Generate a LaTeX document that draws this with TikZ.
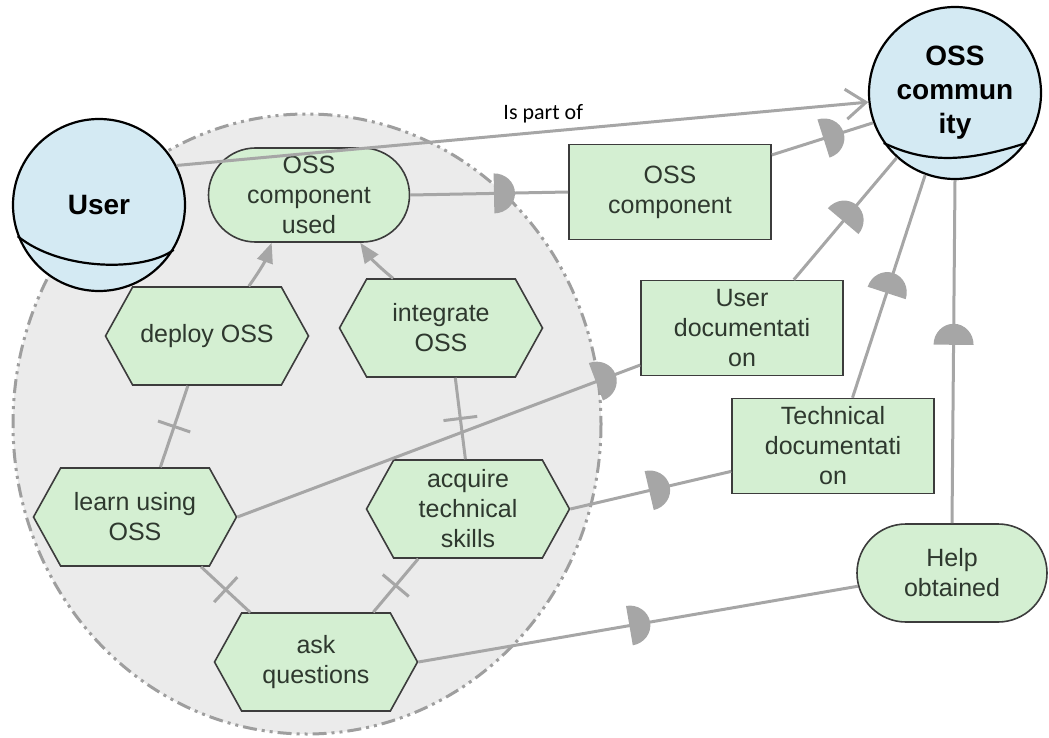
\documentclass[tikz,border=0pt]{standalone}
\usepackage{fontspec}
\setmainfont{Liberation Sans}
\newfontfamily\labelfont{Carlito}
\usetikzlibrary{shapes.misc,shapes.symbols,arrows.meta,calc}
\definecolor{goalgreen}{HTML}{D4EFD2}
\definecolor{actorblue}{HTML}{D4EAF3}
\definecolor{edgegray}{HTML}{3C3C3C}
\definecolor{textgray}{HTML}{2E382E}
\definecolor{linkgray}{HTML}{A6A6A6}
\definecolor{boundfill}{HTML}{EBEBEB}
\definecolor{boundline}{HTML}{9E9E9E}
\begin{document}
\begin{tikzpicture}[x=1pt,y=-1pt,
  element/.style={draw=edgegray,line width=1.6pt,fill=goalgreen,text=textgray,align=center,inner sep=0pt,font=\fontsize{25}{30}\selectfont},
  goal/.style={element,rounded rectangle,minimum width=201pt,minimum height=94pt},
  task/.style={element,signal,signal to=east and west,signal pointer angle=122,minimum width=203pt,minimum height=98pt},
  resource/.style={element,rectangle,minimum width=202pt,minimum height=95pt},
  actor/.style={circle,draw=black,line width=2.2pt,fill=actorblue,minimum size=172pt,inner sep=0pt,align=center,font=\bfseries\fontsize{28}{34}\selectfont},
  link/.style={draw=linkgray,line width=3pt},
  means/.style={link,-{Triangle[length=20pt,width=16pt]}},
  tick/.style={draw=linkgray,line width=3pt,minimum width=0pt,minimum height=34pt,inner sep=0pt,outer sep=0pt},
  dep/.pic={\fill[linkgray] (0,-20) arc[start angle=-90,end angle=90,x radius=21,y radius=20] -- cycle;}
]
\useasboundingbox (0,0) rectangle (1049,738);
% actor boundary
\draw[boundline,fill=boundfill,line width=3pt,dash pattern=on 14pt off 5pt on 3pt off 5pt on 3pt off 5pt] (307,424) ellipse [x radius=294,y radius=310];

\node[actor] (user) at (99,205) {User};
\node[actor] (comm) at (955,93) {OSS\\commun\\ity};
\draw[black,line width=2.2pt] (user.201) .. controls ($(user.201)+(43,35)$) and ($(user.-31)+(-30,22)$) .. (user.-31);
\draw[black,line width=2.2pt] (comm.215) .. controls ($(comm.215)+(42,20)$) and ($(comm.-35)+(-62,20)$) .. (comm.-35);

\node[goal] (used) at (309,195) {OSS\\component\\used};
\node[task] (deploy) at (207,336) {deploy OSS};
\node[task] (integ) at (441,328) {integrate\\OSS};
\node[task] (learn) at (135,517) {learn using\\OSS};
\node[task] (acq) at (468,509) {acquire\\technical\\skills};
\node[task] (ask) at (316,662) {ask\\questions};

\node[resource] (comp) at (670,192) {OSS\\component};
\node[resource] (udoc) at (742,328) {User\\documentati\\on};
\node[resource] (tdoc) at (833,446) {Technical\\documentati\\on};
\node[goal,minimum width=190pt,minimum height=98pt] (help) at (952,573) {Help\\obtained};

% is part of
\draw[link,-{Straight Barb[length=20pt,width=30pt]}] (user.27) -- node[pos=.53,above=4pt,text=black,font=\labelfont\fontsize{22}{26}\selectfont]{Is part of} (comm.186);

% means-end
\draw[means] (deploy.50) to[bend right=8] (used.232);
\draw[means] (integ.134) to[bend left=8] (used.-43);

% decompositions
\draw[link] (learn.63) -- node[sloped,tick]{} (deploy.249);
\draw[link] (acq.93) -- node[sloped,tick]{} (integ.-74);
\draw[link] (learn.-37) -- node[sloped,tick]{} (ask.143);
\draw[link] (acq.225) -- node[sloped,tick]{} (ask.41);

% dependencies
\draw[link] (used.east) -- pic[pos=.53,sloped]{dep} (comp.west);
\draw[link] (comp.20) -- pic[pos=.51,sloped]{dep} (comm.200);
\draw[link] (learn.east) -- pic[pos=.89,sloped]{dep} (udoc.200);
\draw[link] (udoc.43) -- pic[pos=.48,sloped]{dep} (comm.228);
\draw[link] (acq.east) -- pic[pos=.49,sloped]{dep} (tdoc.194);
\draw[link] (tdoc.68) -- pic[pos=.47,sloped]{dep} (comm.250);
\draw[link] (ask.east) -- pic[pos=.48,sloped]{dep} (help.188);
\draw[link] (help.north) -- pic[pos=.52,sloped]{dep} (comm.south);
\end{tikzpicture}
\end{document}
